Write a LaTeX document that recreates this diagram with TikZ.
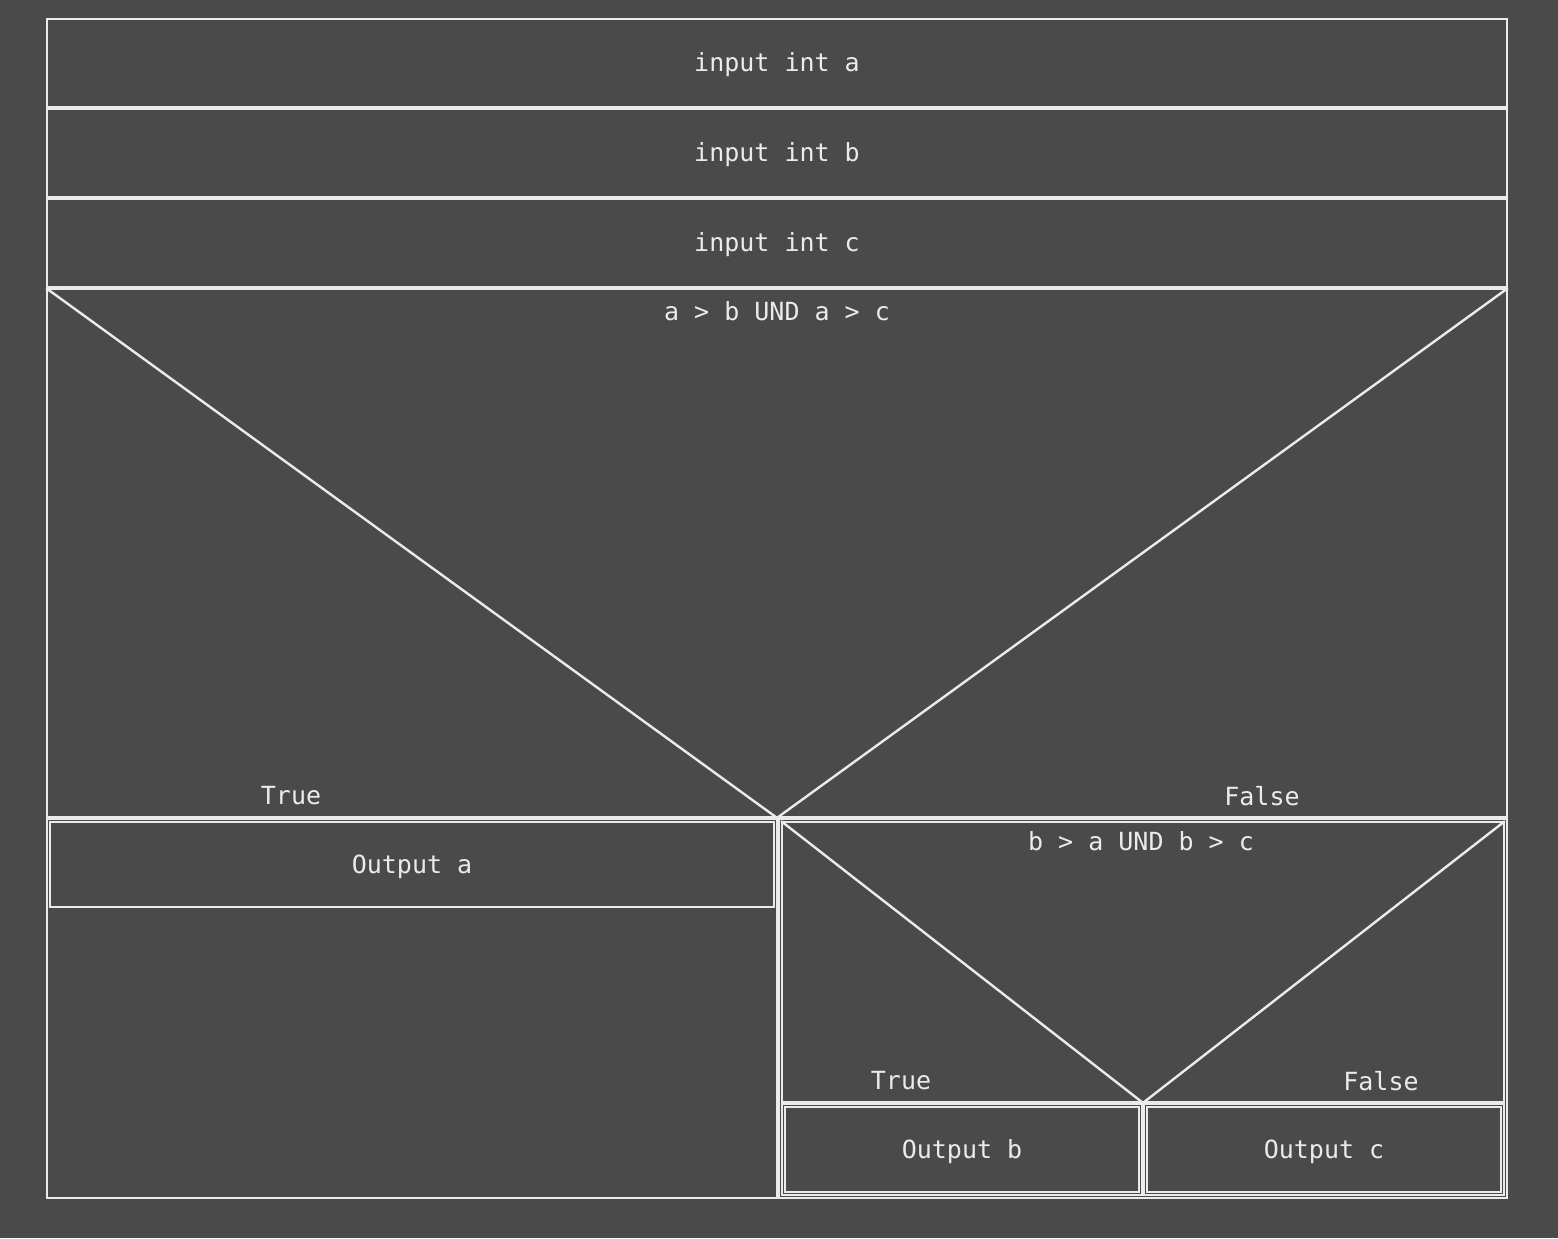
\documentclass[tikz,border=0pt]{standalone}
\usepackage{fontspec}
\setmonofont{DejaVu Sans Mono}
\usetikzlibrary{fit}
\definecolor{nsbg}{HTML}{4A4A4A}
\definecolor{nsline}{HTML}{EBEBEB}
\tikzset{nsbox/.style={draw=nsline, line width=1.1pt, inner sep=0pt}, nslabel/.style={text=nsline, inner sep=0pt, font=\ttfamily\fontsize{12.5}{15}\selectfont}, nstext/.style={nslabel, yshift=-1pt}, diag/.style={draw=nsline, line width=1.2pt}}

\begin{document}
\begin{tikzpicture}[x=0.5pt, y=-0.5pt]
    \fill[nsbg] (0,0) rectangle (1558,1238);
    \useasboundingbox (0,0) rectangle (1558,1238);

    \node[nsbox, fit={(47.25,19.25) (1506.75,106.75)}]      (ina)  {};
    \node[nsbox, fit={(47.25,109.25) (1506.75,196.75)}]     (inb)  {};
    \node[nsbox, fit={(47.25,199.25) (1506.75,286.75)}]     (inc)  {};
    \node[nstext] at (ina.center)                            (tina) {input int a};
    \node[nstext] at (inb.center)                            (tinb) {input int b};
    \node[nstext] at (inc.center)                            (tinc) {input int c};

    \node[nsbox, fit={(47.25,289.25) (1506.75,816.75)}]     (dec1) {};
    \node[nslabel] at (777,311)                              (cond1) {a > b UND a > c};
    \node[nslabel] at (291,796)                              (true1) {True};
    \node[nslabel] at (1262,796)                             (false1) {False};

    \node[nsbox, fit={(47.25,819.25) (776.75,1197.75)}]     (colL) {};
    \node[nsbox, fit={(779.25,819.25) (1506.75,1197.75)}]   (colR) {};
    \node[nsbox, fit={(50.25,822.25) (773.75,906.75)}]      (outa) {};
    \node[nstext] at (outa.center)                           (touta) {Output a};

    \node[nsbox, fit={(782.25,822.25) (1503.75,1101.75)}]   (dec2) {};
    \node[nslabel] at (1141,841)                             (cond2) {b > a UND b > c};
    \node[nslabel] at (901,1081)                             (true2) {True};
    \node[nslabel] at (1381,1081)                            (false2) {False};

    \node[nsbox, fit={(782.25,1104.25) (1141.75,1194.75)}]  (colT) {};
    \node[nsbox, fit={(1144.25,1104.25) (1503.75,1194.75)}] (colF) {};
    \node[nsbox, fit={(785.25,1107.25) (1138.75,1191.75)}]  (outb) {};
    \node[nsbox, fit={(1147.25,1107.25) (1500.75,1191.75)}] (outc) {};
    \node[nstext] at (outb.center)                           (toutb) {Output b};
    \node[nstext] at (outc.center)                           (toutc) {Output c};

    \draw[diag]               (dec1.north west)-- (dec1.south);
    \draw[diag]               (dec1.north east)-- (dec1.south);
    \draw[diag]               (dec2.north west)-- (dec2.south);
    \draw[diag]               (dec2.north east)-- (dec2.south);
\end{tikzpicture}
\end{document}
